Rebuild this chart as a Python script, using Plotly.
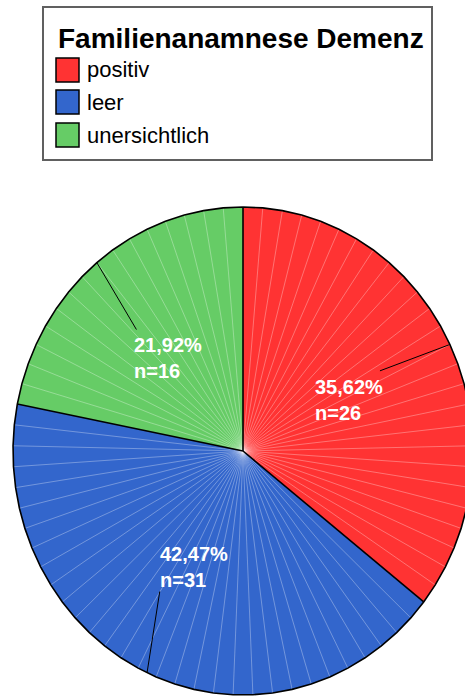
import math
import plotly.graph_objects as go

# ---------------- data ----------------
categories = ["positiv", "leer", "unersichtlich"]
counts = [26, 31, 16]
colors = ["#FF3333", "#3366CC", "#66CC66"]
legend_title = "Familienanamnese Demenz"

# ---------------- layout constants (style) ----------------
W, H = 465, 696
CX, CY = 243, 451          # pie centre (px from top-left)
RX, RY = 230, 244          # pie radii (px)
LABEL_R = 0.51             # label radius (fraction)
LEADER_IN_R = 0.68         # inner end of leader line
LEADER_OFF = [-3.0, 7.5, -3.5]   # angle offsets of leader inner ends (deg)
FONT = "Liberation Sans, Arial, sans-serif"

total = sum(counts)
step = 360.0 / total


def pt(deg, r=1.0):
    a = math.radians(deg)
    return r * math.sin(a), r * math.cos(a)


fig = go.Figure()

# category fills (one wedge per case, straight chords)
bounds = []
start = 0
for cat, n, col in zip(categories, counts, colors):
    xs, ys = [0.0], [0.0]
    for k in range(n + 1):
        x, y = pt((start + k) * step)
        xs.append(x)
        ys.append(y)
    xs.append(0.0)
    ys.append(0.0)
    fig.add_trace(go.Scatter(x=xs, y=ys, mode="lines", fill="toself",
                             fillcolor=col, line=dict(width=0, color=col),
                             hoverinfo="skip", showlegend=False, name=cat))
    bounds.append((start, start + n))
    start += n

# thin white separators between single cases
wx, wy = [], []
cat_edges = {b[0] for b in bounds} | {b[1] % total for b in bounds}
for i in range(total):
    if i in cat_edges:
        continue
    x, y = pt(i * step)
    wx += [0, x, None]
    wy += [0, y, None]
fig.add_trace(go.Scatter(x=wx, y=wy, mode="lines",
                         line=dict(color="rgba(255,255,255,0.45)", width=0.7),
                         hoverinfo="skip", showlegend=False))

# black outline: rim + category boundaries
ox, oy = [], []
for i in range(total + 1):
    x, y = pt(i * step)
    ox.append(x)
    oy.append(y)
ox.append(None)
oy.append(None)
for b in bounds:
    x, y = pt(b[0] * step)
    ox += [0, x, None]
    oy += [0, y, None]
fig.add_trace(go.Scatter(x=ox, y=oy, mode="lines",
                         line=dict(color="black", width=1.6),
                         hoverinfo="skip", showlegend=False))

# labels + leader lines
lx, ly = [], []
for (s, e), n, off in zip(bounds, counts, LEADER_OFF):
    mid = (s + e) / 2 * step
    pct = 100.0 * n / total
    txt = f"{pct:.2f}".replace(".", ",") + "%<br>n=" + str(n)
    x, y = pt(mid, LABEL_R)
    fig.add_annotation(x=x, y=y, xref="x", yref="y", text=txt, showarrow=False,
                       xanchor="center", yanchor="middle", align="left", yshift=-3,
                       font=dict(family=FONT, size=20, color="white", weight="bold"))
    x0, y0 = pt(mid, 1.0)
    x1, y1 = pt(mid + off, LEADER_IN_R)
    lx += [x0, x1, None]
    ly += [y0, y1, None]
fig.add_trace(go.Scatter(x=lx, y=ly, mode="lines",
                         line=dict(color="black", width=1),
                         hoverinfo="skip", showlegend=False))


# ---------------- legend (drawn manually) ----------------
def px(x):
    return x / W


def py(y):
    return 1 - y / H


fig.add_shape(type="rect", xref="paper", yref="paper",
              x0=px(43), x1=px(432), y0=py(160), y1=py(7),
              line=dict(color="#606060", width=2), fillcolor="white", layer="above")
fig.add_annotation(x=px(56), y=py(38), xref="paper", yref="paper",
                   text=legend_title, showarrow=False, xanchor="left", yanchor="middle",
                   font=dict(family=FONT, size=28, color="black", weight="bold"))
row_y = [70, 102, 135]
for cat, col, yy in zip(categories, colors, row_y):
    fig.add_shape(type="rect", xref="paper", yref="paper",
                  x0=px(56), x1=px(79), y0=py(yy + 12), y1=py(yy - 12),
                  line=dict(color="black", width=1.5), fillcolor=col, layer="above")
    fig.add_annotation(x=px(85), y=py(yy), xref="paper", yref="paper",
                       text=cat, showarrow=False, xanchor="left", yanchor="middle",
                       font=dict(family=FONT, size=22, color="black"))

fig.update_layout(
    width=W, height=H,
    margin=dict(l=0, r=0, t=0, b=0),
    paper_bgcolor="white", plot_bgcolor="white",
    xaxis=dict(range=[-CX / RX, (W - CX) / RX], visible=False, fixedrange=True),
    yaxis=dict(range=[-(H - CY) / RY, CY / RY], visible=False, fixedrange=True),
    showlegend=False,
)

fig.write_html("out.html",
               config={"displayModeBar": False, "staticPlot": True},
               post_script="document.body.style.margin='0';document.body.style.overflow='hidden';")
